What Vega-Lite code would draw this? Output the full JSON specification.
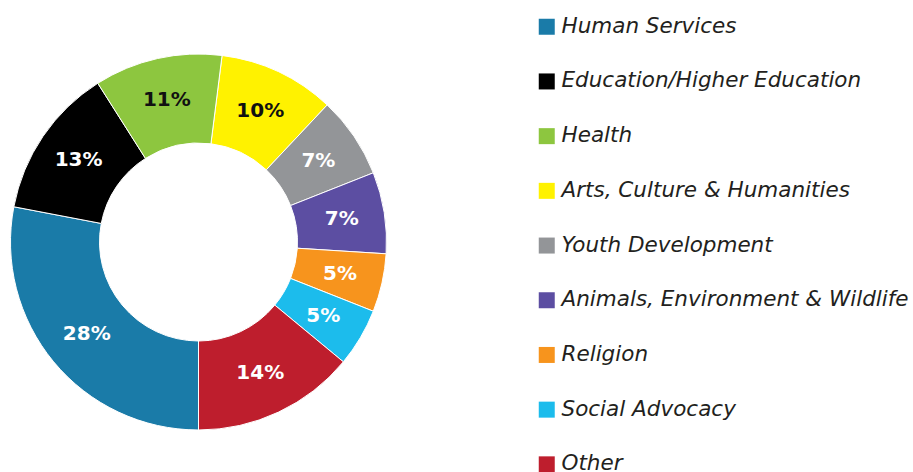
{
  "$schema": "https://vega.github.io/schema/vega-lite/v6.json",
  "width": 397,
  "height": 484,
  "autosize": "none",
  "padding": {"left": 0, "top": 0, "right": 516, "bottom": 0},
  "background": "white",
  "view": {"stroke": null},
  "data": {
    "values": [
      {"cause": "Arts, Culture & Humanities", "share": 0.10, "idx": 1},
      {"cause": "Youth Development", "share": 0.07, "idx": 2},
      {"cause": "Animals, Environment & Wildlife", "share": 0.07, "idx": 3},
      {"cause": "Religion", "share": 0.05, "idx": 4},
      {"cause": "Social Advocacy", "share": 0.05, "idx": 5},
      {"cause": "Other", "share": 0.14, "idx": 6},
      {"cause": "Human Services", "share": 0.28, "idx": 7},
      {"cause": "Education/Higher Education", "share": 0.13, "idx": 8},
      {"cause": "Health", "share": 0.11, "idx": 9}
    ]
  },
  "encoding": {
    "theta": {"field": "share", "type": "quantitative", "stack": true, "scale": {"range": [0.1257, 6.4089]}},
    "order": {"field": "idx", "type": "quantitative"}
  },
  "layer": [
    {
      "mark": {"type": "arc", "outerRadius": 188, "innerRadius": 99, "stroke": "white", "strokeWidth": 1},
      "encoding": {
        "color": {
          "field": "cause",
          "type": "nominal",
          "scale": {
            "domain": ["Human Services", "Education/Higher Education", "Health", "Arts, Culture & Humanities", "Youth Development", "Animals, Environment & Wildlife", "Religion", "Social Advocacy", "Other"],
            "range": ["#1a7ba8", "#000000", "#8dc63f", "#fff200", "#939598", "#5c4ea2", "#f7941d", "#1cbcec", "#be1e2d"]
          },
          "legend": {
            "orient": "none",
            "legendX": 536,
            "legendY": 16,
            "title": null,
            "padding": 0,
            "symbolType": "square",
            "symbolSize": 256,
            "symbolStrokeWidth": 0,
            "labelFont": "DejaVu Sans",
            "labelFontStyle": "italic",
            "labelFontSize": 21.5,
            "labelColor": "#231f20",
            "labelOffset": 4,
            "labelLimit": 400,
            "rowPadding": 31.7
          }
        }
      }
    },
    {
      "mark": {"type": "text", "radius": 145, "font": "DejaVu Sans", "fontWeight": "bold", "fontSize": 20},
      "encoding": {
        "text": {"field": "share", "type": "quantitative", "format": ".0%"},
        "color": {
          "condition": {"test": "datum.cause === 'Health' || datum.cause === 'Arts, Culture & Humanities'", "value": "#111111"},
          "value": "white"
        }
      }
    }
  ]
}
